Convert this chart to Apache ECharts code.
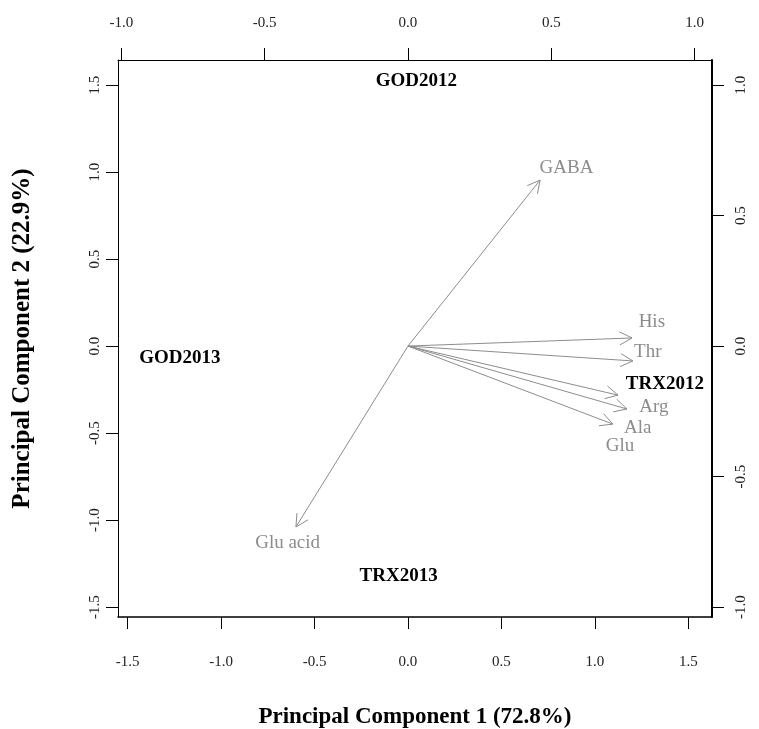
<!DOCTYPE html>
<html>
<head>
<meta charset="utf-8">
<script src="https://cdn.jsdelivr.net/npm/echarts@6/dist/echarts.min.js"></script>
<style>
  html, body { margin: 0; padding: 0; background: #fff; }
  #biplot { width: 759px; height: 729px; }
</style>
</head>
<body>
<div id="biplot"></div>
<script>
// sample scores (bottom / left axes)
var scoreNames = ['GOD2012', 'GOD2013', 'TRX2012', 'TRX2013'];
var scoreX = [0.045, -1.22, 1.374, -0.05];
var scoreY = [1.52, -0.07, -0.218, -1.32];

// variable loadings (top / right axes): arrow tips
var loadNames = ['GABA', 'His', 'Thr', 'Arg', 'Ala', 'Glu', 'Glu acid'];
var loadX = [0.461, 0.782, 0.785, 0.733, 0.764, 0.715, -0.391];
var loadY = [0.636, 0.031, -0.057, -0.188, -0.241, -0.299, -0.693];
// where the loading labels sit
var labelX = [0.553, 0.851, 0.837, 0.858, 0.802, 0.740, -0.420];
var labelY = [0.682, 0.092, -0.023, -0.234, -0.314, -0.383, -0.755];

// tick labels
var ticksBottom = [-1.5, -1.0, -0.5, 0.0, 0.5, 1.0, 1.5];
var ticksLeft = [-1.5, -1.0, -0.5, 0.0, 0.5, 1.0, 1.5];
var ticksTop = [-1.0, -0.5, 0.0, 0.5, 1.0];
var ticksRight = [-1.0, -0.5, 0.0, 0.5, 1.0];

var serif = 'Liberation Serif';
var arrowColor = '#8c8c8c';

var chart = echarts.init(document.getElementById('biplot'));

function fmt(v) { return Number(v).toFixed(1); }

function axisBase(ticks, rotate, margin) {
    return {
        type: 'value',
        splitLine: { show: false },
        axisLine: { show: true, onZero: false, lineStyle: { color: '#000', width: 1 } },
        axisTick: { show: true, length: 12, customValues: ticks, lineStyle: { color: '#000' } },
        axisLabel: {
            customValues: ticks,
            formatter: fmt,
            rotate: rotate,
            margin: margin,
            color: '#222',
            fontFamily: serif,
            fontSize: 15
        }
    };
}

var xBottom = axisBase(ticksBottom, 0, 38);
xBottom.position = 'bottom';
xBottom.min = -1.551;
xBottom.max = 1.626;
xBottom.name = 'Principal Component 1 (72.8%)';
xBottom.nameLocation = 'middle';
xBottom.nameGap = 89;
xBottom.nameTextStyle = { fontFamily: serif, fontWeight: 'bold', fontSize: 23, color: '#000' };
xBottom.axisLine.lineStyle.width = 1.5;

var xTop = axisBase(ticksTop, 0, 29);
xTop.position = 'top';
xTop.min = -1.012;
xTop.max = 1.061;

var yLeft = axisBase(ticksLeft, 90, 15);
yLeft.position = 'left';
yLeft.min = -1.557;
yLeft.max = 1.644;
yLeft.name = 'Principal Component 2 (22.9%)';
yLeft.nameLocation = 'middle';
yLeft.nameGap = 83;
yLeft.nameTextStyle = { fontFamily: serif, fontWeight: 'bold', fontSize: 25, color: '#000' };

var yRight = axisBase(ticksRight, 90, 22);
yRight.position = 'right';
yRight.min = -1.038;
yRight.max = 1.096;
yRight.axisLine.lineStyle.width = 2;

function renderArrow(params, api) {
    var o = api.coord([0, 0]);
    var t = api.coord([api.value(0), api.value(1)]);
    var ang = Math.atan2(t[1] - o[1], t[0] - o[0]);
    var len = 14, spread = Math.PI / 6.5;
    var p1 = [t[0] - len * Math.cos(ang - spread), t[1] - len * Math.sin(ang - spread)];
    var p2 = [t[0] - len * Math.cos(ang + spread), t[1] - len * Math.sin(ang + spread)];
    return {
        type: 'group',
        children: [
            { type: 'line', shape: { x1: o[0], y1: o[1], x2: t[0], y2: t[1] },
              style: { stroke: arrowColor, lineWidth: 1 } },
            { type: 'polyline', shape: { points: [p1, t, p2] },
              style: { stroke: arrowColor, lineWidth: 1, fill: null } }
        ]
    };
}

function textRenderer(color, weight, size) {
    return function (params, api) {
        var p = api.coord([api.value(0), api.value(1)]);
        return {
            type: 'text',
            x: p[0],
            y: p[1],
            style: {
                text: api.value(2),
                align: 'center',
                verticalAlign: 'middle',
                fill: color,
                fontFamily: serif,
                fontWeight: weight,
                fontSize: size
            }
        };
    };
}

var arrowData = loadX.map(function (x, i) { return [x, loadY[i]]; });
var loadLabelData = labelX.map(function (x, i) { return [x, labelY[i], loadNames[i]]; });
var scoreData = scoreX.map(function (x, i) { return [x, scoreY[i], scoreNames[i]]; });

var echarts_options = {
    animation: false,
    grid: { left: 118, right: 47, top: 60, bottom: 112, outerBoundsMode: 'none' },
    xAxis: [xBottom, xTop],
    yAxis: [yLeft, yRight],
    series: [
        {
            type: 'custom',
            xAxisIndex: 1,
            yAxisIndex: 1,
            renderItem: renderArrow,
            encode: { x: 0, y: 1 },
            data: arrowData,
            silent: true
        },
        {
            type: 'custom',
            xAxisIndex: 1,
            yAxisIndex: 1,
            renderItem: textRenderer('#8c8c8c', 'normal', 19),
            dimensions: ['x', 'y', { name: 'name', type: 'ordinal' }],
            encode: { x: 0, y: 1 },
            data: loadLabelData,
            silent: true
        },
        {
            type: 'custom',
            xAxisIndex: 0,
            yAxisIndex: 0,
            renderItem: textRenderer('#000', 'bold', 19),
            dimensions: ['x', 'y', { name: 'name', type: 'ordinal' }],
            encode: { x: 0, y: 1 },
            data: scoreData,
            silent: true
        }
    ]
};

chart.setOption(echarts_options);
</script>
</body>
</html>
